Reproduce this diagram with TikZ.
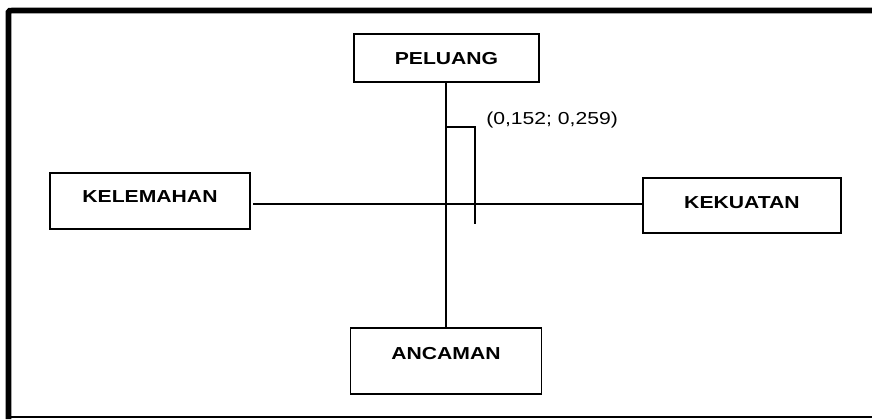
\documentclass[tikz,border=0pt]{standalone}
\usepackage{fontspec}
\setmainfont{Liberation Sans}[FakeStretch=1.22]
\begin{document}
\begin{tikzpicture}[x=0.75pt,y=-0.75pt,
  box/.style={draw,line width=1.1pt,inner sep=0pt,font=\bfseries\fontsize{13}{15}\selectfont,text height=9.3pt},
  conn/.style={line width=1.3pt},
  frame/.style={line width=4.2pt}]
\useasboundingbox (0,0) rectangle (872,419);
% frame
\draw[frame] (8.5,419) -- (8.5,12) to[out=90,in=180] (12,10.5) -- (872,10.5);
\draw[line width=1.1pt] (6,417) -- (872,417);
% boxes
\node[box,minimum width=138.75pt,minimum height=36pt,text depth=0pt] (pel) at (446.5,58) {PELUANG};
\node[box,minimum width=150pt,minimum height=42pt,text depth=6.5pt] (kel) at (150,201) {KELEMAHAN};
\node[box,minimum width=148.5pt,minimum height=41.25pt,text depth=4.5pt] (kek) at (742,205.5) {KEKUATAN};
\node[box,minimum width=143.25pt,minimum height=49.5pt,text depth=12pt] (anc) at (446,361) {ANCAMAN};
% connectors
\coordinate (c) at (446,204);
\draw[conn] (pel.south -| c) -- (anc.north -| c);
\draw[conn] ([xshift=2pt]kel.east |- c) -- (kek.west |- c);
% marker
\coordinate (t1) at (446,127);
\coordinate (t2) at (475,127);
\coordinate (t3) at (475,224);
\draw[conn] (t1) -- (t2) -- (t3);
\node[anchor=west,inner sep=0pt,font=\fontsize{13}{15}\selectfont] (val) at (486,120) {(0,152; 0,259)};
\end{tikzpicture}
\end{document}
